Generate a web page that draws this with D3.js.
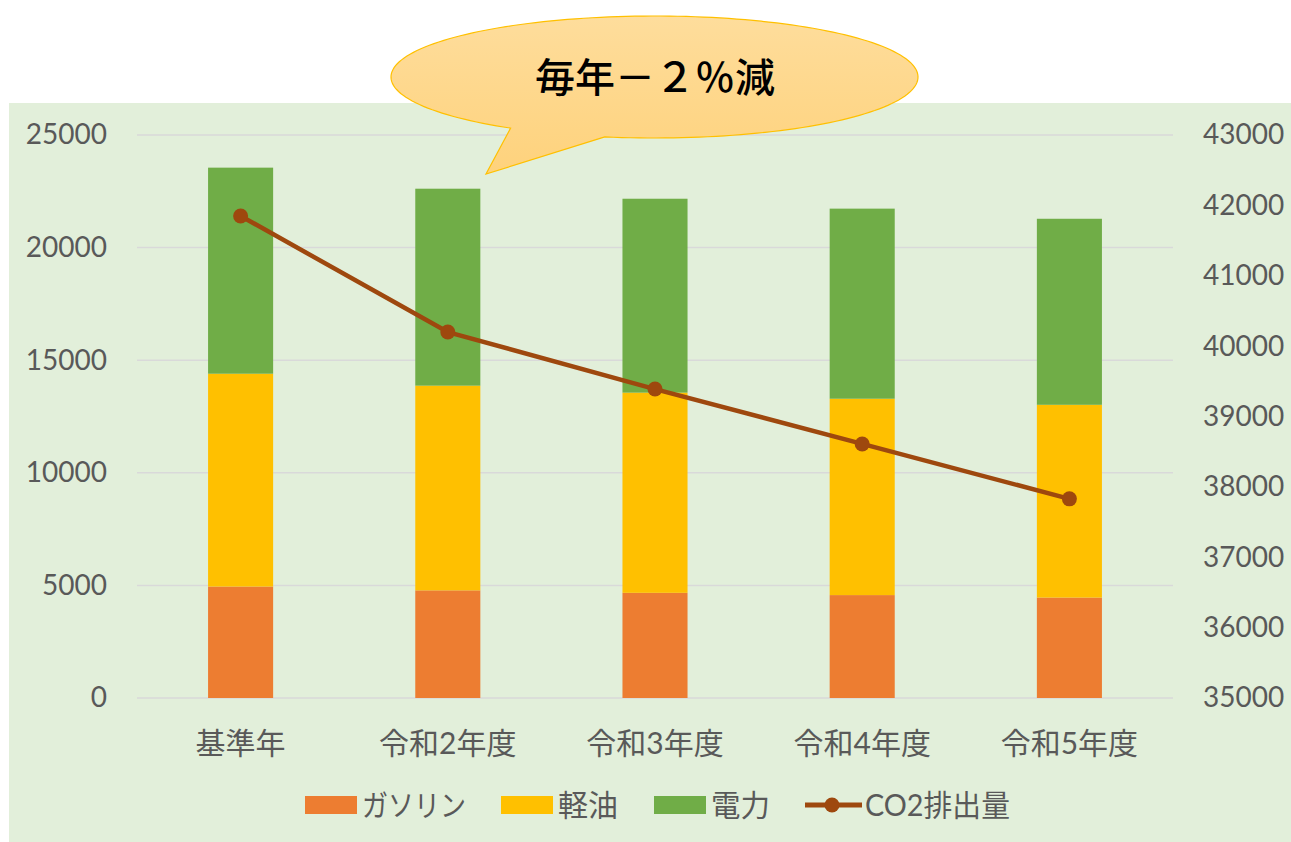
<!DOCTYPE html>
<html>
<head>
<meta charset="utf-8">
<script src="https://cdn.jsdelivr.net/npm/d3@7"></script>
<style>
  body { margin: 0; background: #ffffff; }
  svg { display: block; }
  text { font-family: Lato, "Noto Sans CJK JP", sans-serif; fill: #595959; }
</style>
</head>
<body>
<svg id="chart" width="1291" height="842"></svg>
<script>
// data
var categories = ['基準年', '令和2年度', '令和3年度', '令和4年度', '令和5年度'];
var gasoline = [4950, 4780, 4670, 4570, 4460];
var diesel = [9450, 9090, 8890, 8720, 8560];
var electricity = [9150, 8745, 8610, 8440, 8260];
var co2 = [41850, 40200, 39390, 38610, 37830];

var leftTicks = [0, 5000, 10000, 15000, 20000, 25000];
var rightTicks = [35000, 36000, 37000, 38000, 39000, 40000, 41000, 42000, 43000];

var seriesNames = ['ガソリン', '軽油', '電力'];
var seriesKeys = ['gasoline', 'diesel', 'electricity'];
var seriesColors = ['#ed7d31', '#ffc000', '#70ad47'];
var lineName = 'CO2排出量';
var lineColor = '#9e480e';
var calloutText = '毎年－２％減';

var svg = d3.select('#chart');

// plot background
svg.append('rect')
  .attr('x', 9).attr('y', 103)
  .attr('width', 1291 - 9).attr('height', 842 - 103)
  .attr('fill', '#e2efda');

var x = d3.scaleBand()
  .domain(categories)
  .range([137, 1173])
  .paddingInner(0.686)
  .paddingOuter(0.343);

var yLeft = d3.scaleLinear().domain([0, 25000]).range([698, 135]);
var yRight = d3.scaleLinear().domain([35000, 43000]).range([698, 135]);

// gridlines
svg.append('g')
  .selectAll('line')
  .data(leftTicks)
  .join('line')
  .attr('x1', 137).attr('x2', 1173)
  .attr('y1', function(d) { return yLeft(d); })
  .attr('y2', function(d) { return yLeft(d); })
  .attr('stroke', '#d9d9d9')
  .attr('stroke-width', 1.5);

// left axis
var leftAxis = d3.axisLeft(yLeft).tickValues(leftTicks).tickFormat(d3.format('d')).tickSize(0).tickPadding(0);
var gl = svg.append('g').attr('transform', 'translate(107,0)').call(leftAxis);
gl.select('.domain').remove();
gl.selectAll('text')
  .attr('font-size', 28)
  .attr('fill', '#595959')
  .attr('font-family', 'Lato, sans-serif');

// right axis
var rightAxis = d3.axisRight(yRight).tickValues(rightTicks).tickFormat(d3.format('d')).tickSize(0).tickPadding(0);
var gr = svg.append('g').attr('transform', 'translate(1203,0)').call(rightAxis);
gr.select('.domain').remove();
gr.selectAll('text')
  .attr('font-size', 28)
  .attr('fill', '#595959')
  .attr('font-family', 'Lato, sans-serif');

// stacked bars
var rows = categories.map(function(c, i) {
  return { category: c, gasoline: gasoline[i], diesel: diesel[i], electricity: electricity[i] };
});
var stacked = d3.stack().keys(seriesKeys)(rows);

svg.append('g')
  .selectAll('g')
  .data(stacked)
  .join('g')
  .attr('fill', function(d, i) { return seriesColors[i]; })
  .selectAll('rect')
  .data(function(d) { return d; })
  .join('rect')
  .attr('x', function(d) { return x(d.data.category); })
  .attr('width', x.bandwidth())
  .attr('y', function(d) { return yLeft(d[1]); })
  .attr('height', function(d) { return yLeft(d[0]) - yLeft(d[1]); });

// co2 line
var cx = function(d, i) { return x(categories[i]) + x.bandwidth() / 2; };
var line = d3.line()
  .x(cx)
  .y(function(d) { return yRight(d); });

svg.append('path')
  .datum(co2)
  .attr('d', line)
  .attr('fill', 'none')
  .attr('stroke', lineColor)
  .attr('stroke-width', 4.5)
  .attr('stroke-linejoin', 'round');

svg.append('g')
  .selectAll('circle')
  .data(co2)
  .join('circle')
  .attr('cx', cx)
  .attr('cy', function(d) { return yRight(d); })
  .attr('r', 7.5)
  .attr('fill', lineColor);

// category labels
svg.append('g')
  .selectAll('text')
  .data(categories)
  .join('text')
  .attr('x', function(d) { return x(d) + x.bandwidth() / 2; })
  .attr('y', 742)
  .attr('text-anchor', 'middle')
  .attr('dominant-baseline', 'central')
  .attr('font-size', 30)
  .text(function(d) { return d; });

// legend (kana in the original font are narrower, so fit each label to its width)
var legend = svg.append('g');
var swatchX = [305, 501, 654];
var legendTextW = [104, 60, 59];

function fittedText(parent, tx, ty, str, w) {
  var g = parent.append('g').attr('transform', 'translate(' + tx + ',' + ty + ')');
  var t = g.append('text')
    .attr('dominant-baseline', 'central')
    .attr('font-size', 30)
    .text(str);
  var natural = t.node().getComputedTextLength();
  t.attr('transform', 'scale(' + (w / natural) + ',1)');
}

seriesNames.forEach(function(name, i) {
  legend.append('rect')
    .attr('x', swatchX[i]).attr('y', 796)
    .attr('width', 52).attr('height', 18)
    .attr('fill', seriesColors[i]);
  fittedText(legend, swatchX[i] + 57, 804, name, legendTextW[i]);
});
legend.append('line')
  .attr('x1', 805).attr('x2', 862)
  .attr('y1', 805).attr('y2', 805)
  .attr('stroke', lineColor).attr('stroke-width', 5);
legend.append('circle')
  .attr('cx', 832).attr('cy', 805).attr('r', 7.5)
  .attr('fill', lineColor);
fittedText(legend, 865, 804, lineName, 145);

// callout bubble
var defs = svg.append('defs');
var grad = defs.append('linearGradient')
  .attr('id', 'bubbleFill')
  .attr('x1', 0).attr('y1', 0).attr('x2', 0).attr('y2', 1);
grad.append('stop').attr('offset', '0%').attr('stop-color', '#fedd9c');
grad.append('stop').attr('offset', '100%').attr('stop-color', '#fed27c');

var bcx = 654.5, bcy = 77, brx = 263.5, bry = 61;
var a1 = Math.atan2((127.7 - bcy) / bry, (511.7 - bcx) / brx);
var a2 = Math.atan2((136.7 - bcy) / bry, (605 - bcx) / brx);
if (a2 < a1) a2 += 2 * Math.PI;
var p = d3.path();
p.moveTo(bcx + brx * Math.cos(a2), bcy + bry * Math.sin(a2));
p.lineTo(486, 174);
p.lineTo(bcx + brx * Math.cos(a1), bcy + bry * Math.sin(a1));
var steps = 180;
for (var k = 1; k <= steps; k++) {
  var a = a1 + (a2 - a1) * k / steps;
  p.lineTo(bcx + brx * Math.cos(a), bcy + bry * Math.sin(a));
}
p.closePath();

svg.append('path')
  .attr('d', p.toString())
  .attr('fill', 'url(#bubbleFill)')
  .attr('stroke', '#ffc000')
  .attr('stroke-width', 1.2);

svg.append('text')
  .attr('x', 655).attr('y', 77)
  .attr('text-anchor', 'middle')
  .attr('dominant-baseline', 'central')
  .attr('font-size', 40)
  .attr('font-weight', 500)
  .attr('font-family', '"Noto Sans CJK JP", sans-serif')
  .style('fill', '#000000')
  .text(calloutText);
</script>
</body>
</html>
